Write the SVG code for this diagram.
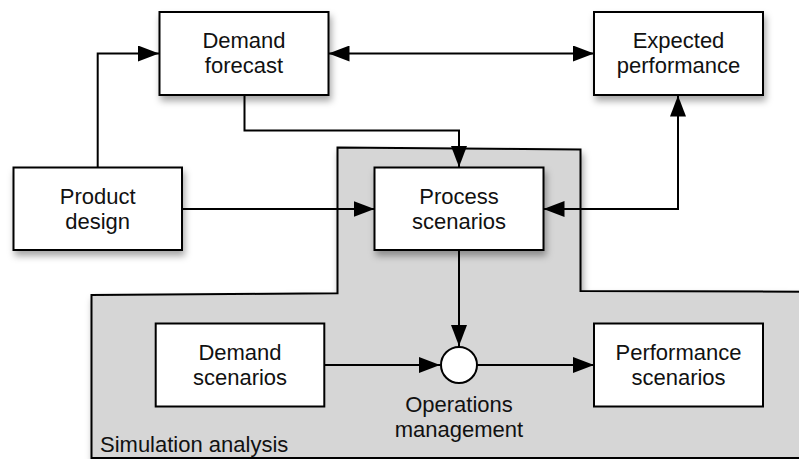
<svg xmlns="http://www.w3.org/2000/svg" width="799" height="459" viewBox="0 0 799 459">
<defs>
<style>
.box{fill:#fff;stroke:#000;stroke-width:2}
.t{font-family:"Liberation Sans",Arial,sans-serif;font-size:22px;fill:#111;text-anchor:middle}
.c{fill:none;stroke:#000;stroke-width:2}
</style>
<filter id="sh" x="-20%" y="-20%" width="150%" height="160%">
<feDropShadow dx="2" dy="5" stdDeviation="3.5" flood-color="#000" flood-opacity="0.35"/>
</filter>
<marker id="ah" markerUnits="userSpaceOnUse" markerWidth="22" markerHeight="16" refX="21" refY="8" orient="auto-start-reverse">
<path d="M0,0 L21,8 L0,16 Z" fill="#000"/>
</marker>
</defs>
<g id="simulation-analysis">
<polygon points="337.5,147.5 580.5,149.5 580.5,291 805,291.7 805,458 91.5,458 91.5,295 337.5,293.3" fill="#d6d6d6" stroke="#000" stroke-width="2" filter="url(#sh)"/>
<text x="100" y="452" class="t" style="text-anchor:start">Simulation analysis</text>
</g>
<g id="connectors">
<polyline class="c" points="97.7,167 97.7,53.5 159,53.5" marker-end="url(#ah)"/>
<line class="c" x1="328.5" y1="53.5" x2="594" y2="53.5" marker-start="url(#ah)" marker-end="url(#ah)"/>
<polyline class="c" points="244.5,95 244.5,130.5 459,130.5 459,167" marker-end="url(#ah)"/>
<line class="c" x1="182" y1="209" x2="374.5" y2="209" marker-end="url(#ah)"/>
<polyline class="c" points="678,95.5 678,209 543.5,209" marker-start="url(#ah)" marker-end="url(#ah)"/>
<line class="c" x1="459" y1="250" x2="459" y2="346" marker-end="url(#ah)"/>
<line class="c" x1="324.5" y1="365" x2="440" y2="365" marker-end="url(#ah)"/>
<line class="c" x1="477" y1="365" x2="594" y2="365" marker-end="url(#ah)"/>
</g>
<g id="demand-forecast">
<rect class="box" x="159.5" y="12" width="169" height="83" filter="url(#sh)"/>
<text class="t" x="244" y="47.5">Demand</text>
<text class="t" x="244" y="72.5">forecast</text>
</g>
<g id="expected-performance">
<rect class="box" x="594" y="12" width="169" height="83" filter="url(#sh)"/>
<text class="t" x="678.5" y="48">Expected</text>
<text class="t" x="678.5" y="73">performance</text>
</g>
<g id="product-design">
<rect class="box" x="13.5" y="167.5" width="168.5" height="82.5" filter="url(#sh)"/>
<text class="t" x="97.7" y="204">Product</text>
<text class="t" x="97.7" y="229">design</text>
</g>
<g id="process-scenarios">
<rect class="box" x="374.5" y="167.5" width="169" height="82.5" filter="url(#sh)"/>
<text class="t" x="459" y="204">Process</text>
<text class="t" x="459" y="229">scenarios</text>
</g>
<g id="demand-scenarios">
<rect class="box" x="155.7" y="323.5" width="168.6" height="83"/>
<text class="t" x="240" y="360">Demand</text>
<text class="t" x="240" y="385">scenarios</text>
</g>
<g id="performance-scenarios">
<rect class="box" x="594" y="323.5" width="169" height="83"/>
<text class="t" x="678.5" y="360">Performance</text>
<text class="t" x="678.5" y="385">scenarios</text>
</g>
<g id="operations-management">
<circle cx="459" cy="365" r="18" fill="#fff" stroke="#000" stroke-width="2"/>
<text class="t" x="459" y="411.5">Operations</text>
<text class="t" x="459" y="436.5">management</text>
</g>
</svg>
